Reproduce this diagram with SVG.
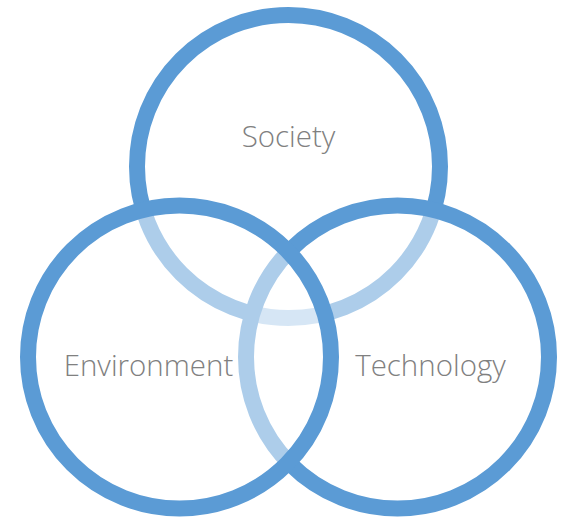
<svg xmlns="http://www.w3.org/2000/svg" width="565" height="517" viewBox="0 0 565 517">
<style>
.ring{fill:#ffffff;fill-opacity:0.5;stroke:#5b9bd5;stroke-width:16}
.lbl{font-family:"Open Sans","Liberation Sans",sans-serif;font-weight:300;font-size:29.5px;fill:#808080;text-anchor:middle}
</style>
<rect width="565" height="517" fill="#ffffff"/>
<g id="society">
<circle class="ring" cx="288.5" cy="166.5" r="151.5"/>
<text class="lbl" x="288.5" y="147">Society</text>
</g>
<g id="technology">
<circle class="ring" cx="397.5" cy="357" r="151.5"/>
<text class="lbl" x="430.5" y="376">Technology</text>
</g>
<g id="environment">
<circle class="ring" cx="179.5" cy="357" r="151.5"/>
<text class="lbl" x="148.5" y="376">Environment</text>
</g>
</svg>
